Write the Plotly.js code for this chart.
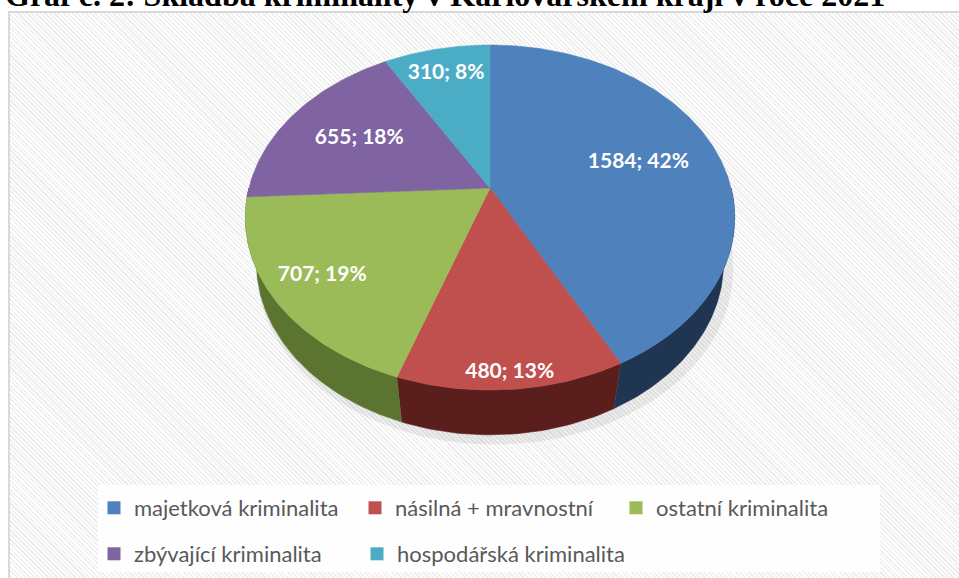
<!DOCTYPE html>
<html>
<head>
<meta charset="utf-8">
<script src="https://cdn.plot.ly/plotly-3.0.1.min.js"></script>
<style>
  body { margin: 0; background: #fff; overflow: hidden; }
  #frame {
    position: absolute; left: 8px; top: 11px; width: 1000px; height: 620px;
    border: 2px solid #d9d9d9;
    background: repeating-linear-gradient(45deg, #ffffff 0 1.6px, #eeeeee 1.6px 3.2px);
  }
  #chart { position: absolute; left: 0; top: 0; width: 959px; height: 578px; }
</style>
</head>
<body>
<div id="frame"></div>
<div id="chart"></div>
<script>
// data
const categories = ['majetková kriminalita', 'násilná + mravnostní', 'ostatní kriminalita',
                    'zbývající kriminalita', 'hospodářská kriminalita'];
const counts = [1584, 480, 707, 655, 310];

// styles
const topColors = ['#4F81BD', '#C0504D', '#9BBB59', '#8064A2', '#4BACC6'];
const sideColors = ['#1F3552', '#5A1E1D', '#5B7530', '#4A3A60', '#2B6A7A'];
const labelRadius = [0.65, 0.93, 0.8, 0.65, 0.8];
const legendOf = ['legend', 'legend', 'legend', 'legend2', 'legend3'];

// tilted disc seen in perspective, in pixel units
const cx = 490, cy = 188, F = 1014, D = 4.206, thick = 0.28;
const tilt = 44 * Math.PI / 180;
const sn = Math.sin(tilt), cs = Math.cos(tilt);
function proj(ang, r, h) {
  const a = ang * Math.PI / 180;
  const x = r * Math.cos(a), z = r * Math.sin(a);
  const yc = h * cs + z * sn, dc = D + z * cs - h * sn;
  return [cx + F * x / dc, cy - F * yc / dc];
}
function arc(a0, a1, r, h) {
  const n = Math.max(2, Math.ceil(Math.abs(a1 - a0)));
  const pts = [];
  for (let k = 0; k <= n; k++) pts.push(proj(a0 + (a1 - a0) * k / n, r, h));
  return pts;
}

const total = counts.reduce((a, b) => a + b, 0);
let start = 90;
const slices = counts.map(v => {
  const sweep = v / total * 360;
  const s = {a0: start, a1: start - sweep};
  start -= sweep;
  return s;
});

const traces = [];

// soft shadow under the disc
const sh = arc(0, 360, 1.02, -thick).map(p => [p[0] + 5, p[1] + 5]);
traces.push({type: 'scatter', mode: 'lines', x: sh.map(p => p[0]), y: sh.map(p => p[1]),
  fill: 'toself', fillcolor: 'rgba(0,0,0,0.07)', line: {width: 0}, showlegend: false, hoverinfo: 'skip'});

// visible side walls (front half)
slices.forEach((s, i) => {
  const hi = Math.min(s.a0, 0), lo = Math.max(s.a1, -180);
  if (lo >= hi) return;
  const pts = arc(hi, lo, 1, 0).concat(arc(lo, hi, 1, -thick));
  traces.push({type: 'scatter', mode: 'lines', x: pts.map(p => p[0]), y: pts.map(p => p[1]),
    fill: 'toself', fillcolor: sideColors[i], line: {width: 0.6, color: sideColors[i]},
    showlegend: false, hoverinfo: 'skip'});
});

// top faces
slices.forEach((s, i) => {
  const pts = [proj(0, 0, 0)].concat(arc(s.a0, s.a1, 1, 0));
  pts.push(proj(0, 0, 0));
  traces.push({type: 'scatter', mode: 'lines', x: pts.map(p => p[0]), y: pts.map(p => p[1]),
    fill: 'toself', fillcolor: topColors[i], line: {width: 0.6, color: topColors[i]},
    showlegend: false, hoverinfo: 'skip'});
});

// data labels
const lab = slices.map((s, i) => proj((s.a0 + s.a1) / 2, labelRadius[i], 0));
traces.push({type: 'scatter', mode: 'text', x: lab.map(p => p[0]), y: lab.map(p => p[1]),
  text: counts.map(v => v + '; ' + Math.round(v / total * 100) + '%'),
  textposition: 'middle center', cliponaxis: false,
  textfont: {family: 'Lato', size: 21, color: '#ffffff', weight: 'bold'},
  showlegend: false, hoverinfo: 'skip'});

// legend entries
categories.forEach((c, i) => {
  traces.push({type: 'scatter', mode: 'markers', x: [-500], y: [-500], name: c,
    marker: {symbol: 'square', size: 13, color: topColors[i]},
    legend: legendOf[i], hoverinfo: 'skip'});
});

const legendBase = {
  orientation: 'h', xanchor: 'left', yanchor: 'middle', x: 94 / 959,
  entrywidth: 216, entrywidthmode: 'pixels', bgcolor: 'rgba(0,0,0,0)',
  font: {family: 'Lato', size: 22, color: '#595959'}, traceorder: 'normal'
};
const legendRow2 = {
  orientation: 'h', xanchor: 'left', yanchor: 'middle', y: 1 - 554 / 578,
  bgcolor: 'rgba(0,0,0,0)', font: {family: 'Lato', size: 22, color: '#595959'}
};

const layout = {
  width: 959, height: 578,
  margin: {l: 0, r: 0, t: 0, b: 0},
  paper_bgcolor: 'rgba(0,0,0,0)', plot_bgcolor: 'rgba(0,0,0,0)',
  xaxis: {range: [0, 959], visible: false, fixedrange: true},
  yaxis: {range: [578, 0], visible: false, fixedrange: true},
  showlegend: true,
  legend: Object.assign({}, legendBase, {y: 1 - 508 / 578}),
  legend2: Object.assign({}, legendRow2, {x: 94 / 959}),
  legend3: Object.assign({}, legendRow2, {x: 357 / 959}),
  shapes: [{type: 'rect', xref: 'x', yref: 'y', x0: 98, x1: 880, y0: 485, y1: 572,
    fillcolor: 'rgba(255,255,255,0.85)', line: {width: 0}, layer: 'below'}],
  annotations: [{
    text: '<b>Graf č. 2: Skladba kriminality v Karlovarském kraji v roce 2021</b>',
    xref: 'paper', yref: 'paper', x: 3 / 959, y: 1, xanchor: 'left', yanchor: 'middle',
    yshift: 5, showarrow: false,
    font: {family: 'Liberation Serif', size: 32, color: '#000000'}
  }]
};

Plotly.newPlot('chart', traces, layout, {displayModeBar: false, staticPlot: true});
</script>
</body>
</html>
